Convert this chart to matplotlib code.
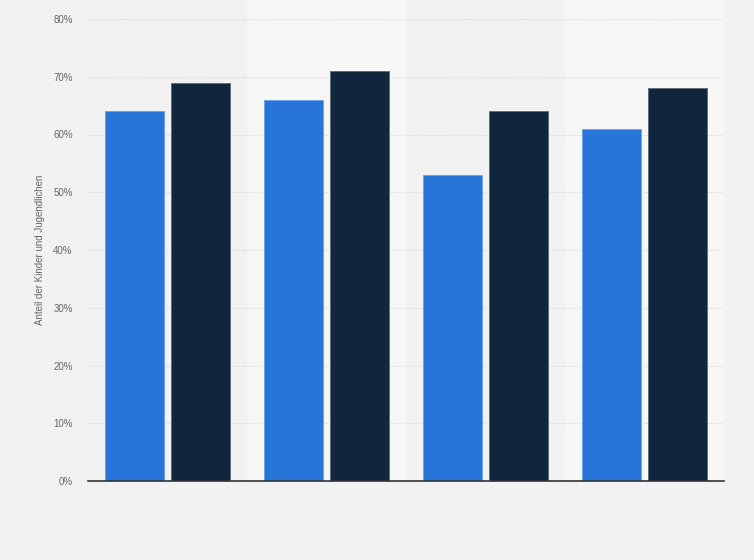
import matplotlib
matplotlib.use("Agg")
import matplotlib.pyplot as plt
import numpy as np
from matplotlib.transforms import blended_transform_factory
from matplotlib.patches import Rectangle

plt.rcParams['font.family'] = ['Liberation Sans', 'DejaVu Sans']

categories = ["", "", "", ""]
series_a = [64, 66, 53, 61]
series_b = [69, 71, 64, 68]
yticks = [0, 10, 20, 30, 40, 50, 60, 70, 80]
ytick_labels = ["0%", "10%", "20%", "30%", "40%", "50%", "60%", "70%", "80%"]

W, H = 754, 560
fig = plt.figure(figsize=(W / 100, H / 100), dpi=100)
fig.patch.set_facecolor('#f2f2f2')
ax = fig.add_axes([88 / W, (H - 481) / H, (724 - 88) / W, (481 - 19) / H])
ax.set_facecolor('#f2f2f2')

x = np.arange(len(categories))
bw = 0.377
off = 0.2075

# alternating bands
trans = blended_transform_factory(ax.transData, ax.transAxes)
for i in x:
    if i % 2 == 1:
        r = Rectangle((i - 0.5, 0), 1.0, 1 + 19 / 462, transform=trans,
                      facecolor='#f7f7f7', edgecolor='none', clip_on=False, zorder=0)
        ax.add_patch(r)

ax.bar(x - off, series_a, width=bw, color='#2775d9', edgecolor='#6aa0e8', linewidth=0.6, zorder=3)
ax.bar(x + off, series_b, width=bw, color='#10263d', edgecolor='#5a6878', linewidth=0.6, zorder=3)

ax.set_xlim(-0.5, len(categories) - 0.5)
ax.set_ylim(0, 80)
ax.set_yticks(yticks)
ax.set_yticklabels(ytick_labels, fontsize=7, color='#666666')
ax.set_xticks(x)
ax.set_xticklabels(categories)
ax.tick_params(axis='both', length=0)
ax.tick_params(axis='y', pad=11)
ax.yaxis.grid(True, color='#d4d4d4', linestyle=(0, (1, 1.5)), linewidth=0.8, zorder=1)
ax.set_axisbelow(True)
for s in ['top', 'right', 'left']:
    ax.spines[s].set_visible(False)
ax.spines['bottom'].set_color('#333333')
ax.spines['bottom'].set_linewidth(1.2)
ax.spines['bottom'].set_zorder(4)

fig.text(40 / W, 1 - 250 / H, "Anteil der Kinder und Jugendlichen", rotation=90,
         ha='center', va='center', fontsize=7, color='#666666')

fig.savefig("out.png", dpi=100, facecolor=fig.get_facecolor())
